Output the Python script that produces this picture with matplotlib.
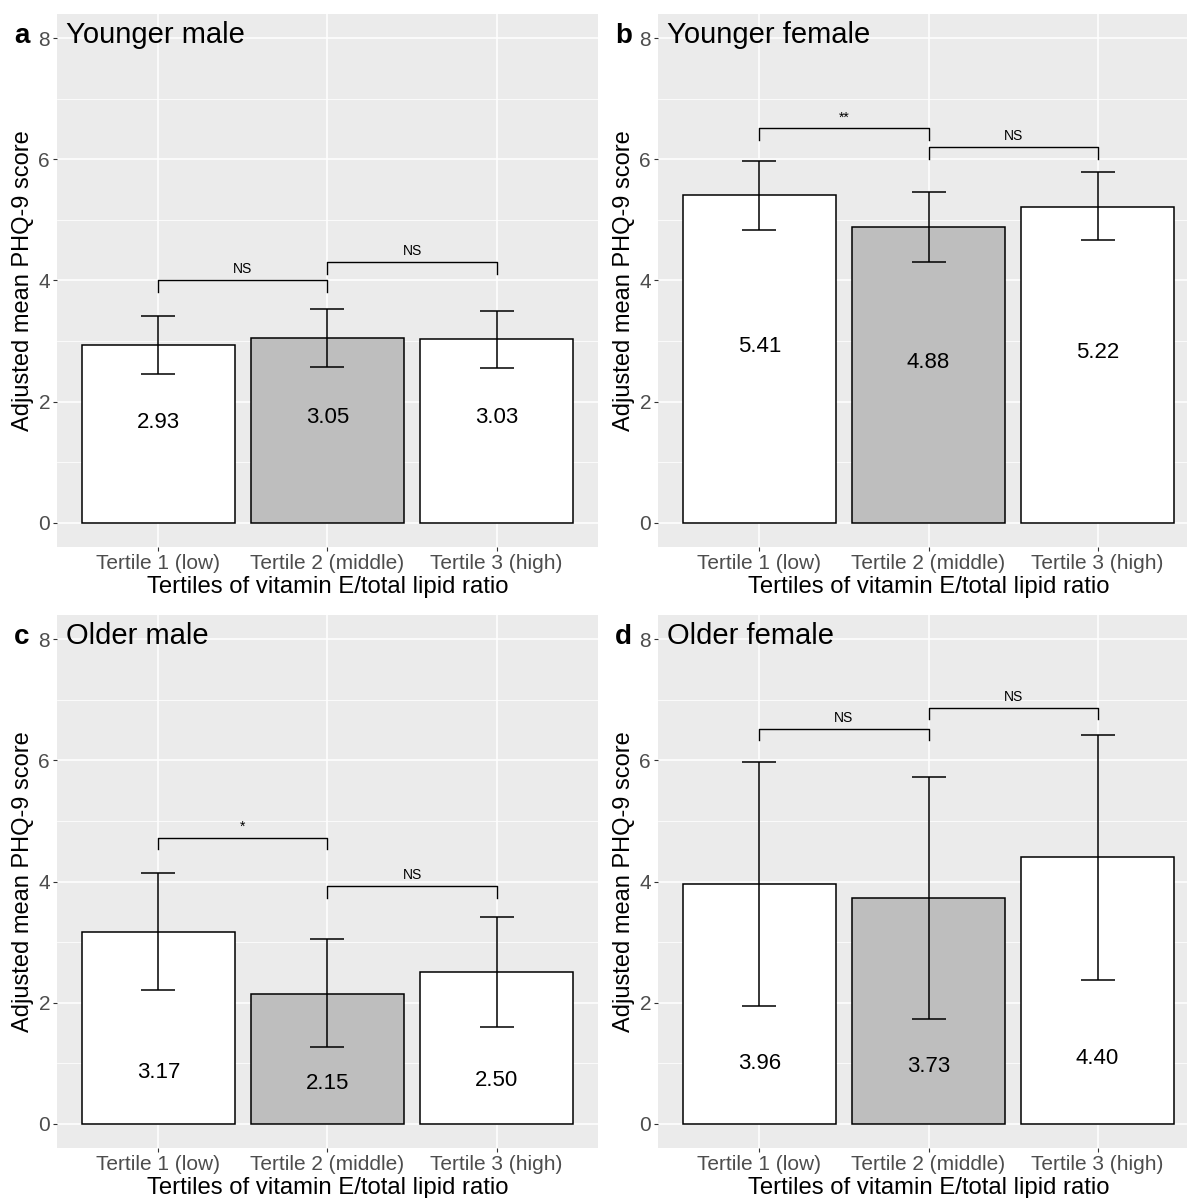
import numpy as np
import matplotlib
matplotlib.use("Agg")
import matplotlib.pyplot as plt

plt.rcParams['font.family'] = ['Liberation Sans', 'DejaVu Sans']

tertiles = ["Tertile 1 (low)", "Tertile 2 (middle)", "Tertile 3 (high)"]
panel_letters = ["a", "b", "c", "d"]
panel_titles = ["Younger male", "Younger female", "Older male", "Older female"]

# adjusted means and 95% CI per panel
means_ym = [2.93, 3.05, 3.03]
lower_ym = [2.46, 2.57, 2.56]
upper_ym = [3.42, 3.53, 3.50]

means_yf = [5.41, 4.88, 5.22]
lower_yf = [4.84, 4.31, 4.67]
upper_yf = [5.98, 5.46, 5.79]

means_om = [3.17, 2.15, 2.50]
lower_om = [2.21, 1.27, 1.59]
upper_om = [4.14, 3.05, 3.41]

means_of = [3.96, 3.73, 4.40]
lower_of = [1.94, 1.73, 2.38]
upper_of = [5.98, 5.73, 6.42]

# where the value text sits inside each bar
label_y_ym = [1.66, 1.73, 1.73]
label_y_yf = [2.91, 2.65, 2.81]
label_y_om = [0.85, 0.66, 0.72]
label_y_of = [1.00, 0.95, 1.07]

# significance brackets: (from, to, height, label)
sig_ym = [(1, 2, 4.00, "NS"), (2, 3, 4.30, "NS")]
sig_yf = [(1, 2, 6.51, "**"), (2, 3, 6.20, "NS")]
sig_om = [(1, 2, 4.72, "*"), (2, 3, 3.92, "NS")]
sig_of = [(1, 2, 6.52, "NS"), (2, 3, 6.87, "NS")]

panels = [
    (means_ym, lower_ym, upper_ym, label_y_ym, sig_ym),
    (means_yf, lower_yf, upper_yf, label_y_yf, sig_yf),
    (means_om, lower_om, upper_om, label_y_om, sig_om),
    (means_of, lower_of, upper_of, label_y_of, sig_of),
]

W, H = 1187, 1198
fig = plt.figure(figsize=(W / 100, H / 100), dpi=100)

# axes boxes in pixels: left, top, right, bottom
boxes = [(57, 14, 598, 547), (658, 14, 1199, 547),
         (57, 615, 598, 1148), (658, 615, 1199, 1148)]

bar_colors = ["white", "#BEBEBE", "white"]
x = np.arange(1, 4)

for i, (means, lo, hi, ly, sig) in enumerate(panels):
    l, t, r, b = boxes[i]
    ax = fig.add_axes([l / W, 1 - b / H, (r - l) / W, (b - t) / H])
    ax.set_facecolor("#EBEBEB")
    for s in ax.spines.values():
        s.set_visible(False)
    ax.set_xlim(0.4, 3.6)
    ax.set_ylim(-0.4, 8.4)
    ax.set_yticks([0, 2, 4, 6, 8])
    ax.set_yticks([1, 3, 5, 7], minor=True)
    ax.set_xticks(x)
    ax.set_xticklabels(tertiles)
    ax.grid(True, which="major", color="white", lw=1.1)
    ax.grid(True, which="minor", axis="y", color="white", lw=0.55)
    ax.set_axisbelow(True)
    ax.tick_params(axis="both", which="major", length=3, width=0.8, color="#333333",
                   labelsize=15, labelcolor="#4D4D4D", pad=2)
    ax.tick_params(axis="both", which="minor", length=0)

    ax.bar(x, means, width=0.9, color=bar_colors, edgecolor="black", lw=1.1, zorder=2)
    m = np.array(means)
    err = [m - np.array(lo), np.array(hi) - m]
    ax.errorbar(x, means, yerr=err, fmt="none", ecolor="black", elinewidth=1.1,
                capsize=12, capthick=1.1, zorder=3)
    for xi, v, yy in zip(x, means, ly):
        ax.text(xi, yy, f"{v:.2f}", ha="center", va="center", fontsize=16, zorder=4)

    tip = 0.19
    for x1, x2, yb, lab in sig:
        ax.plot([x1, x1, x2, x2], [yb - tip, yb, yb, yb - tip], color="black", lw=1.0, zorder=3)
        ax.annotate(lab, xy=((x1 + x2) / 2, yb), xytext=(0, 3), textcoords="offset points",
                    ha="center", va="bottom", fontsize=10)

    ax.set_xlabel("Tertiles of vitamin E/total lipid ratio", fontsize=17.2, va="baseline")
    ax.xaxis.set_label_coords(0.5, -0.086)
    ax.set_ylabel("Adjusted mean PHQ-9 score", fontsize=17, va="center")
    ax.yaxis.set_label_coords(-0.062, 0.5)

    ax.text(0.016, 0.946, panel_titles[i], transform=ax.transAxes, fontsize=21,
            ha="left", va="baseline")
    ax.text(-0.079, 0.946, panel_letters[i], transform=ax.transAxes, fontsize=20,
            fontweight="bold", ha="left", va="baseline")

fig.savefig("out.png", dpi=100)
